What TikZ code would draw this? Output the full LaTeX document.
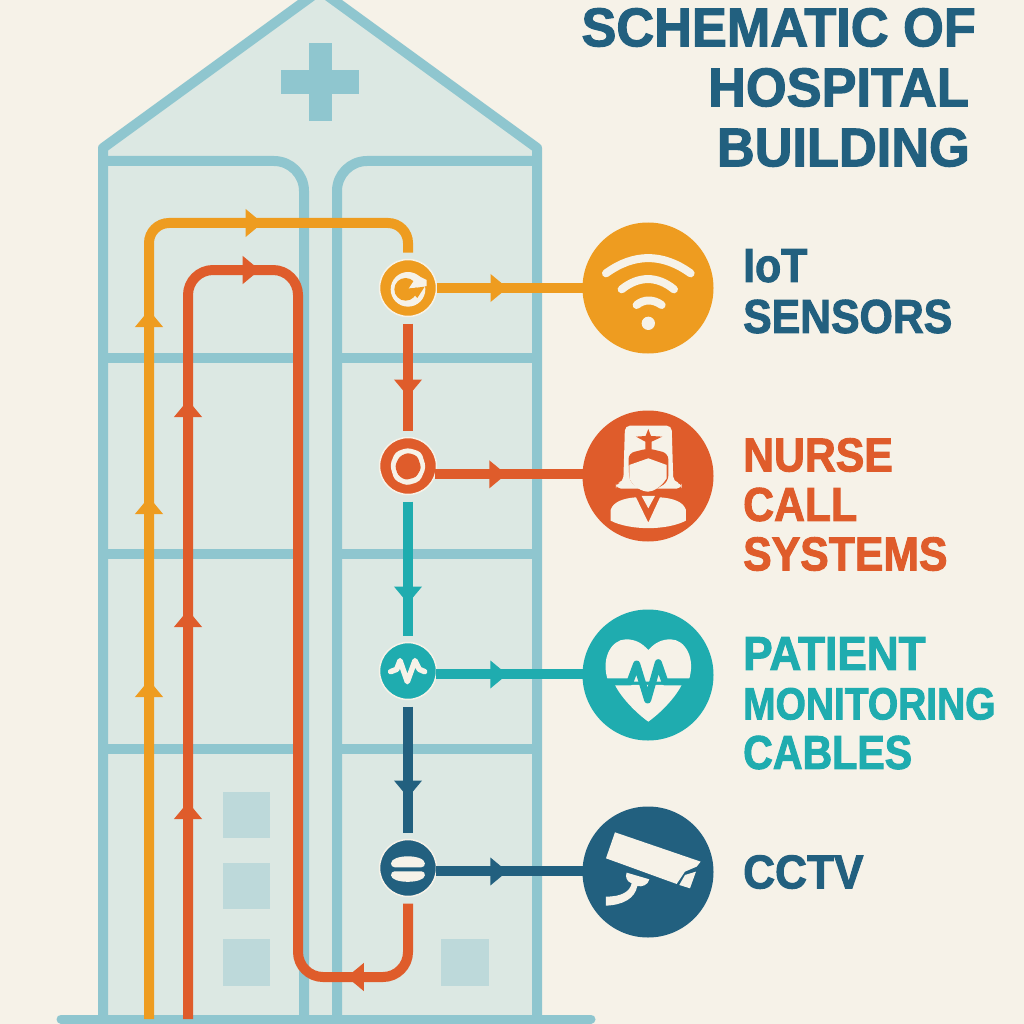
\documentclass[tikz,border=0pt]{standalone}
\usepackage{fontspec}
\setmainfont{Liberation Sans}
\newfontfamily\titlefont[FakeStretch=0.96,FakeBold=2]{Liberation Sans}
\newfontfamily\labelfont[FakeStretch=0.90,FakeBold=2]{Liberation Sans}
\newfontfamily\widefont[FakeStretch=0.93,FakeBold=2]{Liberation Sans}
\newfontfamily\narrowfont[FakeStretch=0.865,FakeBold=2]{Liberation Sans}
\usepackage{xcolor}
\usetikzlibrary{positioning, arrows.meta, decorations.markings}

\definecolor{paper}{HTML}{F6F2E8}
\definecolor{glass}{HTML}{DCE8E3}
\definecolor{frame}{HTML}{8FC6CF}
\definecolor{pane}{HTML}{BDD9DA}
\definecolor{amber}{HTML}{EE9C20}
\definecolor{rust}{HTML}{DF5C2B}
\definecolor{teal}{HTML}{1FACAF}
\definecolor{navy}{HTML}{22607F}

\tikzset{
	flowtip/.tip={Triangle[length=17pt,width=27pt]},
	flowmark/.style={postaction={decorate,decoration={markings,mark=at position #1 with {\arrow{flowtip}}}}},
	wall/.style={draw=frame, line width=10pt, line join=round},
	pipe/.style={color=#1, draw, line width=10pt},
	link/.style={pipe=#1, shorten <=7pt, shorten >=7pt},
	tap/.style={pipe=#1, flowmark=71pt},
	hubnode/.style={circle, fill=#1, draw=paper, line width=1.5pt, minimum size=57pt, inner sep=0pt, outer sep=0pt},
	iconnode/.style={circle, fill=#1, minimum size=131pt, inner sep=0pt, outer sep=0pt},
	pale/.style={fill=paper, draw=none},
	paleline/.style={draw=paper, line cap=round, line join=round},
	sidelabel/.style={anchor=north west, inner sep=0pt, align=left, text=#1, font=\labelfont\bfseries\fontsize{47.5}{49.5}\selectfont}
}

\begin{document}
\begin{tikzpicture}[x=1pt, y=-1pt]
	\clip (0,0) rectangle (1024,1024);
	\fill[paper] (0,0) rectangle (1024,1024);

	% Building
	\fill[glass] (103,148) -- (320,-10) -- (538,148) -- (538,1019) -- (103,1019) -- cycle;
	\draw[wall] (312,-4) -- (103,148) -- (103,1019);
	\draw[wall] (328,-4) -- (537,148) -- (537,1019);
	\draw[wall, rounded corners=30pt] (103,161) -- (304,161) -- (304,1019);
	\draw[wall, rounded corners=30pt] (537,161) -- (337,161) -- (337,1019);
	\foreach \y in {358,554,749} {
		\draw[wall, line width=10pt] (103,\y) -- (304,\y);
		\draw[wall, line width=10pt] (337,\y) -- (537,\y);
	}
	\draw[frame, line width=9pt, line cap=round] (61,1019) -- (591,1019);

	% Cross
	\fill[frame] (309,43) rectangle (332,121);
	\fill[frame] (281,70) rectangle (359,94);

	% Windows
	\fill[pane] (223,792) rectangle (270,838);
	\fill[pane] (223,863) rectangle (270,909);
	\fill[pane] (223,939) rectangle (270,986);
	\fill[pane] (441,939) rectangle (489,986);

	% Title
	\node (title) [anchor=north east, inner sep=0pt, align=right, text=navy,
		font=\titlefont\bfseries\fontsize{54.5}{60}\selectfont] at (976,8)
		{SCHEMATIC OF\\HOSPITAL\rule{7pt}{0pt}\\BUILDING\rule{6pt}{0pt}};

	% Hubs
	\node (hubiot) [hubnode=amber] at (408,288) {};
	\node (hubnurse) [hubnode=rust, below=121pt of hubiot] {};
	\node (hubpatient) [hubnode=teal, below=148pt of hubnurse] {};
	\node (hubcctv) [hubnode=navy, below=140pt of hubpatient] {};

	% Icons
	\node (iconiot) [iconnode=amber] at (648,288) {};
	\node (iconnurse) [iconnode=rust] at (648,476) {};
	\node (iconpatient) [iconnode=teal] at (648,675) {};
	\node (iconcctv) [iconnode=navy] at (648,872) {};

	% Labels
	\node (labeliot) [sidelabel=navy] at (743,249) {IoT\\[1.5pt]SENSORS};
	\node (labelnurse) [sidelabel=rust] at (743,438) {NURSE\\CALL\\SYSTEMS};
	\node (labelpatient) [sidelabel=teal] at (743,637) {{\widefont PATIENT}\\{\narrowfont\fontsize{45}{49.5}\selectfont MONITORING}\\{\narrowfont CABLES}};
	\node (labelcctv) [sidelabel=navy] at (743,855) {\widefont CCTV};

	% Free ends of the risers
	\coordinate (riseramber) at (149,1019);
	\coordinate (riserrust) at (188,1019);
	\coordinate (joinrust) at (298,900);

	% Cables
	\draw[pipe=amber, rounded corners=20pt, flowmark/.list={339pt,522pt,709pt,901pt}]
		(riseramber) -- (149,223) -- (408,223) -- ([yshift=7pt]hubiot.north);
	\draw[pipe=rust, rounded corners=25pt, flowmark/.list={217pt,409pt,619pt,810pt}]
		(riserrust) -- (188,270) -- (298,270) -- (joinrust);
	\draw[pipe=rust, rounded corners=25pt, flowmark=124pt]
		([yshift=-7pt]hubcctv.south) -- (408,977) -- (298,977) -- (joinrust);
	\draw[link=rust, flowmark=80pt] (hubiot) -- (hubnurse);
	\draw[link=teal, flowmark=109pt] (hubnurse) -- (hubpatient);
	\draw[link=navy, flowmark=98pt] (hubpatient) -- (hubcctv);

	% Taps
	\draw[tap=amber] (hubiot.east) -- (iconiot.west);
	\draw[tap=rust] (hubnurse.-17) -- (hubnurse.-17 -| iconnurse.west);
	\draw[tap=teal] (hubpatient.-7) -- (hubpatient.-7 -| iconpatient.west);
	\draw[tap=navy] (hubcctv.-7) -- (hubcctv.-7 -| iconcctv.west);

	% Glyphs in the upper hubs and icons
	\begin{scope}[shift={(360,230)}, x=0.3333pt, y=-0.3333pt]
		\fill[paper] (144,178) circle (52);
		\fill[amber] (137,178) circle (34);
		\fill[paper] (146,176) -- (172,136) -- (200,150) -- (200,168) -- cycle;
		\fill[amber] (146,176) -- (194,170) -- (172,204) -- cycle;

		\draw[paleline, line width=8pt] (738,130) .. controls (822,69) and (908,69) .. (992,130);
		\draw[paleline, line width=8pt] (785,178) .. controls (836,137) and (892,137) .. (942,178);
		\draw[paleline, line width=8pt] (830,225) .. controls (852,207) and (880,207) .. (905,225);
		\fill[paper] (865,280) circle (20);

		\fill[paper, rounded corners=4pt] (143,653) -- (184,666) -- (198,712) -- (180,754) -- (140,767) -- (103,750) -- (90,705) -- (106,666) -- cycle;
		\fill[rust, rounded corners=3pt] (143,668) -- (172,678) -- (184,714) -- (168,742) -- (136,750) -- (114,736) -- (105,708) -- (118,680) -- cycle;

		\fill[pale, rounded corners=5pt] (795,587) -- (935,587) -- (940,755) -- (965,760) -- (965,776) -- (768,776) -- (768,760) -- (790,755) -- cycle;
		\fill[rust, rounded corners=6pt] (808,755) -- (805,670) -- (865,655) -- (925,670) -- (925,755) -- (865,792) -- cycle;
		\fill[pale] (808,705) -- (865,685) -- (920,705) -- (920,745) .. controls (905,770) and (880,785) .. (865,785) .. controls (845,785) and (820,770) .. (808,745) -- cycle;
		\fill[rust] (865,597) -- (873,618) -- (907,620) -- (875,635) -- (875,660) -- (856,660) -- (856,635) -- (828,620) -- (857,618) -- cycle;
		\fill[pale] (752,872) -- (752,840) .. controls (760,815) and (790,805) .. (828,802) -- (865,878) -- (900,802) .. controls (940,805) and (970,815) .. (978,840) -- (978,872) .. controls (920,902) and (810,902) .. (752,872) -- cycle;
		\fill[pale] (845,798) -- (885,798) -- (865,835) -- cycle;
	\end{scope}

	% Glyphs in the lower hubs and icons
	\begin{scope}[shift={(360,600)}, x=0.3333pt, y=-0.3333pt]
		\draw[paleline, line width=5.5pt] (92,215) -- (110,208) -- (120,182) -- (142,245) -- (165,182) -- (178,208) -- (194,215);

		\fill[pale] (865,150) .. controls (885,128) and (905,118) .. (932,118) .. controls (975,118) and (1010,175) .. (985,245) -- (745,245) .. controls (720,175) and (755,118) .. (798,118) .. controls (825,118) and (845,128) .. (865,150) -- cycle;
		\fill[pale] (765,255) -- (965,255) .. controls (945,295) and (900,340) .. (865,365) .. controls (830,340) and (785,295) .. (765,255) -- cycle;
		\draw[teal, line width=7pt, line join=round] (735,246) -- (810,246) -- (830,192) -- (863,300) -- (895,188) -- (915,246) -- (995,246);

		\fill[paper, rounded corners=4pt] (92,802) .. controls (95,762) and (192,762) .. (196,802) -- cycle;
		\fill[paper, rounded corners=4pt] (92,814) .. controls (95,852) and (192,852) .. (196,814) -- cycle;

		\fill[pale] (765,697) -- (1022,785) -- (1010,800) -- (975,815) -- (950,852) -- (738,775) -- cycle;
		\fill[pale] (975,825) -- (1008,815) -- (990,865) -- (958,855) -- cycle;
		\fill[pale] (800,818) -- (868,838) .. controls (865,855) and (845,862) .. (832,858) .. controls (825,895) and (790,915) .. (738,917) -- (738,890) .. controls (785,890) and (810,875) .. (815,850) .. controls (800,845) and (795,830) .. (800,818) -- cycle;
	\end{scope}
\end{tikzpicture}
\end{document}
